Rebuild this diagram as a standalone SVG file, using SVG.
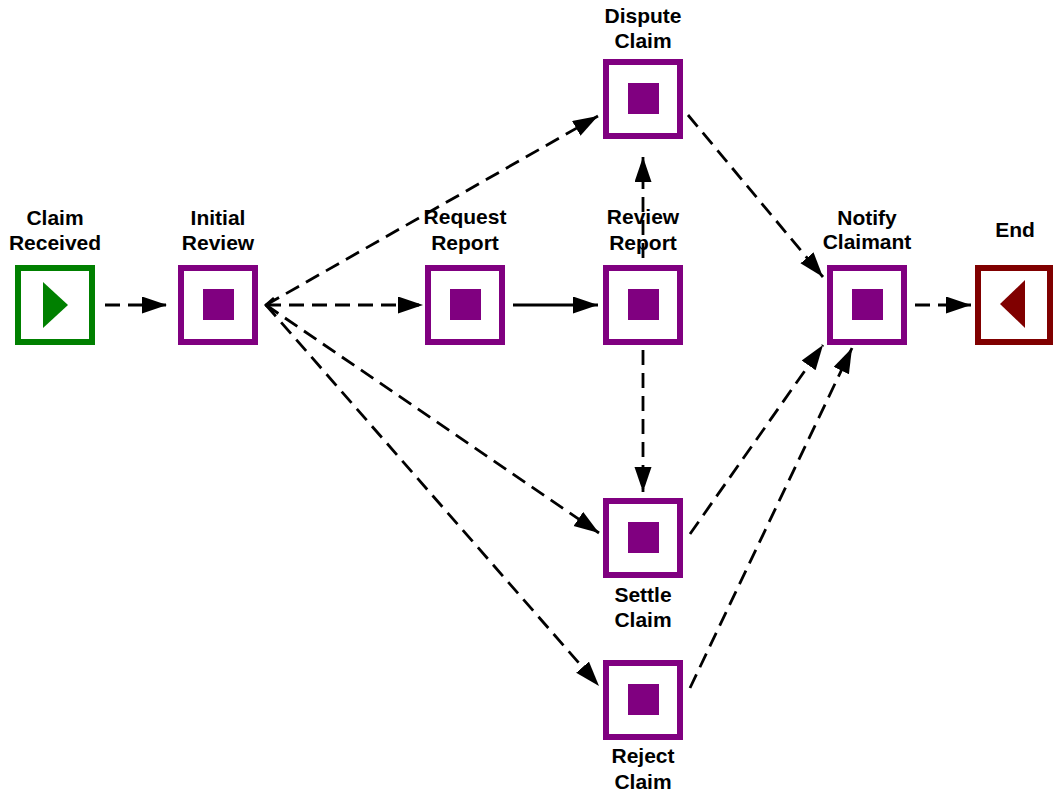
<svg xmlns="http://www.w3.org/2000/svg" width="1053" height="792" viewBox="0 0 1053 792">
  <style>
    .lbl { font-family: "Liberation Sans", Arial, sans-serif; font-weight: bold; font-size: 21px; fill: #000; text-anchor: middle; }
    .task { fill: #fff; stroke: #800080; stroke-width: 6; }
    .mark { fill: #800080; }
    .edge { fill: none; stroke: #000; stroke-width: 2.8; marker-end: url(#arrow); }
    .dash { stroke-dasharray: 15 8; }
  </style>
  <defs>
    <marker id="arrow" markerUnits="userSpaceOnUse" markerWidth="26" markerHeight="18" refX="25" refY="8.5" orient="auto">
      <path d="M0,0 L25,8.5 L0,17 z" fill="#000"/>
    </marker>
  </defs>
  <rect width="1053" height="792" fill="#fff"/>

  <g id="claim-received">
    <rect x="18" y="268" width="74" height="74" fill="#fff" stroke="#008000" stroke-width="6"/>
    <polygon points="43,282 68,305 43,328" fill="#008000"/>
    <text class="lbl" x="55" y="225">Claim</text>
    <text class="lbl" x="55" y="250">Received</text>
  </g>

  <g id="initial-review">
    <rect class="task" x="181" y="268" width="74" height="74"/>
    <rect class="mark" x="203" y="289" width="31" height="31"/>
    <text class="lbl" x="218" y="225">Initial</text>
    <text class="lbl" x="218" y="250">Review</text>
  </g>

  <g id="request-report">
    <rect class="task" x="428" y="268" width="74" height="74"/>
    <rect class="mark" x="450" y="289" width="31" height="31"/>
    <text class="lbl" x="465" y="224">Request</text>
    <text class="lbl" x="465" y="250">Report</text>
  </g>

  <g id="review-report">
    <rect class="task" x="606" y="268" width="74" height="74"/>
    <rect class="mark" x="628" y="289" width="31" height="31"/>
    <text class="lbl" x="643" y="224">Review</text>
    <text class="lbl" x="643" y="250">Report</text>
  </g>

  <g id="dispute-claim">
    <rect class="task" x="606" y="62" width="74" height="74"/>
    <rect class="mark" x="628" y="83" width="31" height="31"/>
    <text class="lbl" x="643" y="23">Dispute</text>
    <text class="lbl" x="643" y="48">Claim</text>
  </g>

  <g id="settle-claim">
    <rect class="task" x="606" y="501" width="74" height="74"/>
    <rect class="mark" x="628" y="522" width="31" height="31"/>
    <text class="lbl" x="643" y="602">Settle</text>
    <text class="lbl" x="643" y="627">Claim</text>
  </g>

  <g id="reject-claim">
    <rect class="task" x="606" y="663" width="74" height="74"/>
    <rect class="mark" x="628" y="684" width="31" height="31"/>
    <text class="lbl" x="643" y="763">Reject</text>
    <text class="lbl" x="643" y="789">Claim</text>
  </g>

  <g id="notify-claimant">
    <rect class="task" x="830" y="268" width="74" height="74"/>
    <rect class="mark" x="852" y="289" width="31" height="31"/>
    <text class="lbl" x="867" y="225">Notify</text>
    <text class="lbl" x="867" y="249">Claimant</text>
  </g>

  <g id="end">
    <rect x="978" y="268" width="72" height="74" fill="#fff" stroke="#800000" stroke-width="6"/>
    <polygon points="1025,280 1000,304 1025,328" fill="#800000"/>
    <text class="lbl" x="1015" y="237">End</text>
  </g>

  <!-- connectors drawn last so they sit above the labels they cross -->
  <g id="connectors">
    <line class="edge dash" x1="105" y1="305" x2="167" y2="305"/>
    <line class="edge dash" x1="266" y1="305" x2="423" y2="305"/>
    <line class="edge dash" x1="266" y1="305" x2="598" y2="116"/>
    <line class="edge dash" x1="266" y1="305" x2="599" y2="533"/>
    <line class="edge dash" x1="266" y1="305" x2="599" y2="686"/>
    <path d="M274,298 L266,305 L274,312" fill="none" stroke="#000" stroke-width="2.8"/>
    <line class="edge" x1="513" y1="305" x2="598" y2="305"/>
    <line class="edge dash" x1="643" y1="258" x2="643" y2="157"/>
    <line class="edge dash" x1="643" y1="350" x2="643" y2="492"/>
    <line class="edge dash" x1="688" y1="115" x2="823" y2="277"/>
    <line class="edge dash" x1="690" y1="534" x2="823" y2="345"/>
    <line class="edge dash" x1="690" y1="688" x2="852" y2="348"/>
    <line class="edge dash" x1="915" y1="305" x2="971" y2="305"/>
  </g>
</svg>
